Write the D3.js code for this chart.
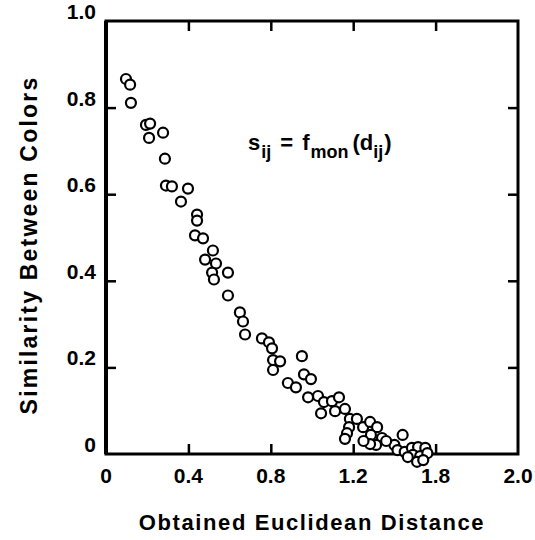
<!DOCTYPE html>
<html>
<head>
<meta charset="utf-8">
<script src="https://cdn.jsdelivr.net/npm/d3@7"></script>
<style>
  body { margin: 0; background: #fff; }
  text { font-family: "Liberation Sans", Arial, sans-serif; fill: #000; }
</style>
</head>
<body>
<div class="plot"></div>
<script>
// obtained euclidean distance d_ij
const distance = [0.097, 0.117, 0.121, 0.194, 0.214, 0.209, 0.277, 0.286, 0.291, 0.320,
  0.398, 0.364, 0.442, 0.442, 0.432, 0.471, 0.519, 0.481, 0.534, 0.515,
  0.592, 0.524, 0.592, 0.650, 0.665, 0.675, 0.757, 0.791, 0.806, 0.811,
  0.845, 0.811, 0.951, 0.961, 0.995, 0.883, 0.922, 0.981, 1.029, 1.044,
  1.058, 1.097, 1.131, 1.112, 1.160, 1.184, 1.218, 1.180, 1.170, 1.160,
  1.248, 1.282, 1.316, 1.286, 1.340, 1.311, 1.282, 1.440, 1.400, 1.415,
  1.450, 1.485, 1.515, 1.550, 1.490, 1.525, 1.560, 1.510, 1.540, 1.465,
  1.250, 1.360];
// similarity s_ij
const similarity = [0.866, 0.853, 0.811, 0.760, 0.763, 0.730, 0.742, 0.682, 0.620, 0.618,
  0.613, 0.583, 0.553, 0.539, 0.505, 0.498, 0.470, 0.449, 0.440, 0.419,
  0.419, 0.403, 0.366, 0.327, 0.306, 0.276, 0.267, 0.258, 0.244, 0.217,
  0.214, 0.194, 0.226, 0.184, 0.173, 0.164, 0.154, 0.131, 0.134, 0.094,
  0.120, 0.122, 0.131, 0.099, 0.104, 0.081, 0.081, 0.062, 0.048, 0.035,
  0.062, 0.074, 0.062, 0.044, 0.037, 0.021, 0.023, 0.044, 0.021, 0.009,
  0.005, 0.014, 0.016, 0.014, -0.002, -0.005, 0.002, -0.018, -0.014, -0.007,
  0.030, 0.030];

const xTicks = [0, 0.4, 0.8, 1.2, 1.6, 2.0];
const xTickLabels = ["0", "0.4", "0.8", "1.2", "1.8", "2.0"]; // as printed
const yTicks = [0, 0.2, 0.4, 0.6, 0.8, 1.0];
const yTickLabels = ["0", "0.2", "0.4", "0.6", "0.8", "1.0"];

const width = 535, height = 540;
const mLeft = 106, mRight = 518, mTop = 21, mBottom = 454;

const svg = d3.select('.plot').append('svg')
  .attr('width', width)
  .attr('height', height);

const x = d3.scaleLinear().domain([0, 2]).range([mLeft, mRight]);
const y = d3.scaleLinear().domain([0, 1]).range([mBottom, mTop]);

// inner ticks on all four sides
const tick = 10;
svg.append('g').attr('transform', `translate(0,${mBottom})`)
  .call(d3.axisTop(x).tickValues(xTicks.slice(1, -1)).tickSize(tick).tickFormat(''));
svg.append('g').attr('transform', `translate(0,${mTop})`)
  .call(d3.axisBottom(x).tickValues(xTicks.slice(1, -1)).tickSize(tick).tickFormat(''));
svg.append('g').attr('transform', `translate(${mLeft},0)`)
  .call(d3.axisRight(y).tickValues(yTicks.slice(1, -1)).tickSize(tick).tickFormat(''));
svg.append('g').attr('transform', `translate(${mRight},0)`)
  .call(d3.axisLeft(y).tickValues(yTicks.slice(1, -1)).tickSize(tick).tickFormat(''));
svg.selectAll('.domain').remove();
svg.selectAll('.tick line').attr('stroke', '#000').attr('stroke-width', 2.5);

// frame
svg.append('rect')
  .attr('x', mLeft).attr('y', mTop)
  .attr('width', mRight - mLeft).attr('height', mBottom - mTop)
  .attr('fill', 'none').attr('stroke', '#000').attr('stroke-width', 3);
svg.append('line') // left side is printed heavier
  .attr('x1', mLeft).attr('x2', mLeft).attr('y1', mTop).attr('y2', mBottom)
  .attr('stroke', '#000').attr('stroke-width', 4);

// tick labels
svg.selectAll('text.xlab')
  .data(xTicks)
  .enter()
  .append('text')
  .attr('class', 'xlab')
  .text((d, i) => xTickLabels[i])
  .attr('x', d => x(d))
  .attr('y', mBottom + 29)
  .attr('text-anchor', 'middle')
  .attr('font-size', 21)
  .attr('font-weight', 'bold');

svg.selectAll('text.ylab')
  .data(yTicks)
  .enter()
  .append('text')
  .attr('class', 'ylab')
  .text((d, i) => yTickLabels[i])
  .attr('x', mLeft - 10)
  .attr('y', d => y(d) - 2)
  .attr('text-anchor', 'end')
  .attr('font-size', 21)
  .attr('font-weight', 'bold');

// axis titles
svg.append('text')
  .text('Obtained Euclidean Distance')
  .attr('x', 312).attr('y', 530)
  .attr('text-anchor', 'middle')
  .attr('font-size', 22)
  .attr('letter-spacing', 1.6)
  .attr('font-weight', 'bold');

svg.append('text')
  .text('Similarity Between Colors')
  .attr('transform', 'translate(37,245) rotate(-90)')
  .attr('text-anchor', 'middle')
  .attr('font-size', 23)
  .attr('letter-spacing', 2.2)
  .attr('font-weight', 'bold');

// formula
const f = svg.append('text')
  .attr('x', 248).attr('y', 150)
  .attr('font-size', 22)
  .attr('font-weight', 'bold');
f.append('tspan').text('s');
f.append('tspan').text('ij').attr('font-size', 18).attr('dy', 8).attr('dx', 1);
f.append('tspan').text('=').attr('dy', -8).attr('dx', 9);
f.append('tspan').text('f').attr('dx', 9);
f.append('tspan').text('mon').attr('font-size', 18).attr('dy', 8).attr('dx', 1);
f.append('tspan').text('(d').attr('dy', -8).attr('dx', 4);
f.append('tspan').text('ij').attr('font-size', 18).attr('dy', 8);
f.append('tspan').text(')').attr('dy', -8).attr('dx', 1);

// points
svg.selectAll('circle')
  .data(distance)
  .enter()
  .append('circle')
  .attr('cx', d => x(d))
  .attr('cy', (d, i) => y(similarity[i]))
  .attr('r', 5)
  .attr('fill', '#fff')
  .attr('stroke', '#000')
  .attr('stroke-width', 2.2);
</script>
</body>
</html>
